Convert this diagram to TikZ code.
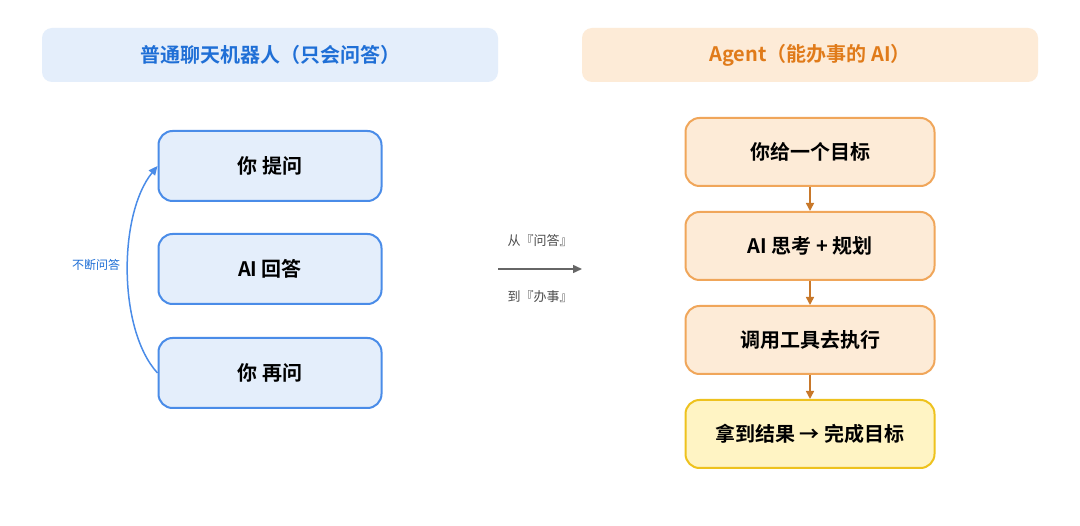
\documentclass[tikz,border=0pt]{standalone}
\usepackage{fontspec}
\setmainfont{Noto Sans CJK SC}
\newfontfamily\cjkb{Noto Sans CJK SC Bold}
\usetikzlibrary{arrows.meta}
\definecolor{bluefill}{HTML}{E4EEFB}
\definecolor{blueline}{HTML}{4A8CE8}
\definecolor{bluetext}{HTML}{1F6FD6}
\definecolor{orfill}{HTML}{FDEBD7}
\definecolor{orline}{HTML}{F0A65A}
\definecolor{ortext}{HTML}{E07B1A}
\definecolor{orarrow}{HTML}{C8782A}
\definecolor{yelfill}{HTML}{FFF4C4}
\definecolor{yelline}{HTML}{EEC21E}
\begin{document}
\begin{tikzpicture}[x=1pt,y=-1pt]
\tikzset{
  head/.style={rounded corners=10pt, minimum width=456pt, minimum height=54pt, font=\cjkb\fontsize{20}{24}\selectfont},
  lbox/.style={draw=blueline, fill=bluefill, line width=2pt, rounded corners=14pt, minimum width=223pt, minimum height=70pt, font=\cjkb\fontsize{20}{24}\selectfont},
  rbox/.style={draw=orline, fill=orfill, line width=2pt, rounded corners=14pt, minimum width=249pt, minimum height=68pt, font=\cjkb\fontsize{20}{24}\selectfont},
  nextstep/.style={orarrow, line width=1.5pt, -{Triangle[length=8pt,width=8pt]}}
}
\useasboundingbox (0,0) rectangle (1080,526);
\fill[white] (0,0) rectangle (1080,526);
% headers
\node[head, fill=bluefill, text=bluetext] (lhead) at (270,55) {普通聊天机器人（只会问答）};
\node[head, fill=orfill, text=ortext] (rhead) at (810,55) {Agent（能办事的 AI）};
% left loop
\node[lbox] (ask) at (270,166) {你 提问};
\node[lbox] (answer) at (270,269) {AI 回答};
\node[lbox] (again) at (270,373) {你 再问};
\draw[blueline, line width=1.5pt, -{Triangle[length=9pt,width=8pt]}] (again.west) .. controls (118,330) and (118,215) .. (ask.west);
\node[text=bluetext, font=\fontsize{12}{14}\selectfont] (looplab) at (96,265) {不断问答};
% middle
\coordinate (ma) at (498,269);
\coordinate (mb) at (582,269);
\draw[gray!80!black, line width=1.5pt, -{Triangle[length=9pt,width=8pt]}] (ma) -- (mb);
\node[font=\fontsize{13}{15}\selectfont, text=gray!60!black] (from) at (540,241) {从『问答』};
\node[font=\fontsize{13}{15}\selectfont, text=gray!60!black] (to) at (540,297) {到『办事』};
% right steps
\node[rbox] (goal) at (810,152) {你给一个目标};
\node[rbox] (plan) at (810,246) {AI 思考 + 规划};
\node[rbox] (tool) at (810,340) {调用工具去执行};
\node[rbox, draw=yelline, fill=yelfill] (done) at (810,434) {拿到结果 → 完成目标};
\draw[nextstep] (goal) -- (plan);
\draw[nextstep] (plan) -- (tool);
\draw[nextstep] (tool) -- (done);
\end{tikzpicture}
\end{document}
